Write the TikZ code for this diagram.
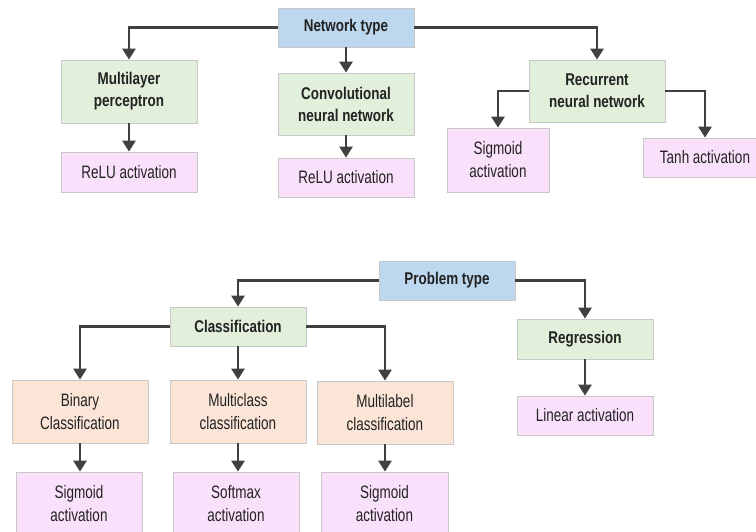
\documentclass[tikz,border=0pt]{standalone}
\usepackage{fontspec}
\newfontfamily\narrow{Liberation Sans}[FakeStretch=0.75]
\newfontfamily\narrowbold{Liberation Sans Bold}[FakeStretch=0.79]
\usetikzlibrary{arrows.meta}
\definecolor{boxline}{HTML}{C8C8C8}
\definecolor{headblue}{HTML}{BDD7EE}
\definecolor{modelgreen}{HTML}{E2EFDA}
\definecolor{taskpeach}{HTML}{FBE5D6}
\definecolor{actpink}{HTML}{F9E0FB}
\definecolor{arrowgray}{HTML}{404040}
\definecolor{txt}{HTML}{222222}
\tikzset{
  box/.style={draw=boxline, line width=0.8pt, inner sep=0pt, align=center,
    minimum width=136pt, text=txt},
  headbox/.style={box, fill=headblue, minimum height=39pt,
    font=\narrowbold\fontsize{17}{22}\selectfont},
  modelbox/.style={box, fill=modelgreen,
    font=\narrowbold\fontsize{17}{22}\selectfont},
  taskbox/.style={box, fill=taskpeach, minimum height=63pt,
    font=\narrow\fontsize{18}{23}\selectfont},
  actbox/.style={box, fill=actpink,
    font=\narrow\fontsize{18}{23}\selectfont},
  link/.style={draw=arrowgray, line width=2.8pt,
    -{Triangle[width=13pt,length=11pt]}},
}
\begin{document}
\begin{tikzpicture}[x=1pt,y=-1pt]
\useasboundingbox (0,0) rectangle (756,532);
\clip (0,0) rectangle (756,532);
\fill[white] (0,0) rectangle (756,532);

% network type tree
\node[headbox] (nt) at (346,27.5) {Network type};
\node[modelbox, minimum height=63pt] (mlp) at (129,91.5) {Multilayer\\perceptron};
\node[modelbox, minimum height=62pt] (cnn) at (346,104) {Convolutional\\neural network};
\node[modelbox, minimum height=62pt] (rnn) at (597,91) {Recurrent\\neural network};
\node[actbox, minimum height=40pt] (relu1) at (129,172) {ReLU activation};
\node[actbox, minimum height=39pt] (relu2) at (346,177.5) {ReLU activation};
\node[actbox, minimum height=64pt, minimum width=102pt] (sig1) at (498,160) {Sigmoid\\activation};
\node[actbox, minimum height=39pt, minimum width=124pt] (tanh) at (705,157.5) {Tanh activation};

\draw[link] (nt.west) -| (mlp.north);
\draw[link] (nt.south) -- (cnn.north);
\draw[link] (nt.east) -| (rnn.north);
\draw[link] (mlp.south) -- (relu1.north);
\draw[link] (cnn.south) -- (relu2.north);
\draw[link] (rnn.west) -| (sig1.north);
\draw[link] (rnn.east) -| (tanh.north);

% problem type tree
\node[headbox] (pt) at (447,280.5) {Problem type};
\node[modelbox, minimum height=39pt] (cls) at (238,326.5) {Classification};
\node[modelbox, minimum height=40pt] (reg) at (585,339) {Regression};
\node[actbox, minimum height=39pt] (lin) at (585,415.5) {Linear activation};
\node[taskbox] (bin) at (80,411.5) {Binary\\Classification};
\node[taskbox] (mcl) at (238,411.5) {Multiclass\\classification};
\node[taskbox] (mlb) at (385,412.5) {Multilabel\\classification};
\node[actbox, minimum height=63pt, minimum width=126pt] (sig2) at (79,503.5) {Sigmoid\\activation};
\node[actbox, minimum height=63pt, minimum width=126pt] (soft) at (236,503.5) {Softmax\\activation};
\node[actbox, minimum height=63pt, minimum width=127pt] (sig3) at (384.5,503.5) {Sigmoid\\activation};

\draw[link] (pt.west) -| (cls.north);
\draw[link] (pt.east) -| (reg.north);
\draw[link] (reg.south) -- (lin.north);
\draw[link] (cls.west) -| (bin.north);
\draw[link] (cls.south) -- (mcl.north);
\draw[link] (cls.east) -| (mlb.north);
\draw[link] (bin.south) -- (bin.south |- sig2.north);
\draw[link] (mcl.south) -- (mcl.south |- soft.north);
\draw[link] (mlb.south) -- (mlb.south |- sig3.north);
\end{tikzpicture}
\end{document}
